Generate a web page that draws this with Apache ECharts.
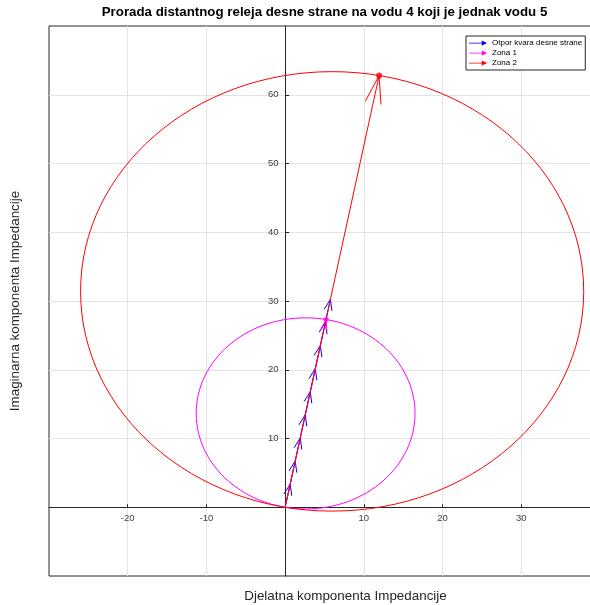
<!DOCTYPE html>
<html>
<head>
<meta charset="utf-8">
<script src="https://cdn.jsdelivr.net/npm/echarts@6/dist/echarts.min.js"></script>
<style>html,body{margin:0;padding:0;background:#fff;}#c{width:590px;height:605px;}</style>
</head>
<body>
<div id="c"></div>
<script>
// ---- data ----
const xTickValues = [-20, -10, 10, 20, 30];
const yTickValues = [10, 20, 30, 40, 50, 60];
// fault resistance path (quiver points)
const faultX = [0, 0.64, 1.28, 1.92, 2.55, 3.19, 3.83, 4.47, 5.11, 5.75];
const faultY = [0, 3.36, 6.72, 10.08, 13.44, 16.80, 20.16, 23.52, 26.88, 30.24];
// zone reach vectors (start -> tip)
const zone1Vec = [0, 0, 5.2, 27.3];
const zone2Vec = [0, 0, 11.94, 62.8];
// mho circles: [centerX, centerY, radius]
const zone1Circle = [2.6, 13.65, 13.9];
const zone2Circle = [5.97, 31.4, 31.96];
const seriesNames = ['Otpor kvara desne strane', 'Zona 1', 'Zona 2'];

const faultArrows = [];
for (let i = 0; i < faultX.length - 1; i++) {
  faultArrows.push([faultX[i], faultY[i], faultX[i + 1], faultY[i + 1]]);
}

function arrowRender(color, headLen, headHalf) {
  return function (params, api) {
    const p0 = api.coord([api.value(0), api.value(1)]);
    const p1 = api.coord([api.value(2), api.value(3)]);
    const dx = p1[0] - p0[0], dy = p1[1] - p0[1];
    const L = Math.sqrt(dx * dx + dy * dy) || 1;
    const ux = dx / L, uy = dy / L;
    const bx = p1[0] - ux * headLen, by = p1[1] - uy * headLen;
    const px = -uy, py = ux;
    return {
      type: 'group',
      children: [
        { type: 'polyline', shape: { points: [p0, p1] }, style: { stroke: color, lineWidth: 1, fill: null } },
        { type: 'polyline', shape: { points: [[bx + px * headHalf, by + py * headHalf], p1, [bx - px * headHalf, by - py * headHalf]] },
          style: { stroke: color, lineWidth: 1, fill: null } }
      ]
    };
  };
}
function circleRender(color) {
  return function (params, api) {
    const c = api.coord([api.value(0), api.value(1)]);
    const s = api.size([api.value(2), api.value(2)]);
    return { type: 'ellipse', shape: { cx: c[0], cy: c[1], rx: s[0], ry: s[1] },
      style: { stroke: color, lineWidth: 1, fill: null } };
  };
}

const arrowIcon = 'path://M0,3.5 L17,3.5 L17,0.5 L24,4 L17,7.5 L17,4.5 L0,4.5 Z';
const axisColor = '#262626';
const labelColor = '#404040';
const gridColor = '#e3e3e3';
const FONT = '"Liberation Sans", Arial, Helvetica, sans-serif';

const chart = echarts.init(document.getElementById('c'), null, { renderer: 'canvas' });
chart.setOption({
  animation: false,
  backgroundColor: '#ffffff',
  title: {
    text: 'Prorada distantnog releja desne strane na vodu 4 koji je jednak vodu 5',
    left: 324.5, top: 6, textAlign: 'center', padding: 0,
    textStyle: { fontFamily: FONT, fontSize: 13.3, fontWeight: 'bold', color: '#000' }
  },
  legend: {
    data: seriesNames.map(n => ({ name: n, icon: arrowIcon })),
    orient: 'vertical', left: 466, top: 36,
    itemWidth: 18, itemHeight: 7, itemGap: 2,
    padding: [3, 3, 3, 3],
    backgroundColor: '#fff', borderColor: axisColor, borderWidth: 1, borderRadius: 0,
    textStyle: { fontFamily: FONT, fontSize: 8, color: '#000' }
  },
  grid: {
    left: 49, top: 26, width: 551, height: 550, outerBoundsMode: 'none', containLabel: false,
    show: true, borderColor: axisColor, borderWidth: 1, backgroundColor: 'transparent'
  },
  xAxis: {
    type: 'value', min: -30, max: 40, interval: 10,
    name: 'Djelatna komponenta Impedancije', nameLocation: 'middle', nameGap: 14,
    nameTextStyle: { fontFamily: FONT, fontSize: 13.4, color: axisColor, padding: [0, 0, 0, 42] },
    axisLine: { onZero: true, lineStyle: { color: axisColor, width: 1 } },
    axisTick: { inside: true, length: 3, customValues: xTickValues, lineStyle: { color: axisColor } },
    axisLabel: { customValues: xTickValues, margin: -62.5, fontFamily: FONT, fontSize: 9.5, color: labelColor },
    splitLine: { show: true, lineStyle: { color: gridColor, width: 1 } }
  },
  yAxis: {
    type: 'value', min: -10, max: 70, interval: 10,
    name: 'Imaginarna komponenta Impedancije', nameLocation: 'middle', nameGap: 27, nameRotate: 90,
    nameTextStyle: { fontFamily: FONT, fontSize: 13.4, color: axisColor },
    axisLine: { onZero: true, lineStyle: { color: axisColor, width: 1 } },
    axisTick: { inside: true, length: 4, customValues: yTickValues, lineStyle: { color: axisColor } },
    axisLabel: { customValues: yTickValues, margin: -229.5, fontFamily: FONT, fontSize: 9.5, color: labelColor },
    splitLine: { show: true, lineStyle: { color: gridColor, width: 1 } }
  },
  series: [
    {
      name: seriesNames[0], type: 'custom', renderItem: arrowRender('#0000ff', 11, 4),
      itemStyle: { color: '#0000ff' }, encode: { x: [0, 2], y: [1, 3] },
      data: faultArrows, z: 2
    },
    {
      type: 'custom', renderItem: circleRender('#ff00ff'), itemStyle: { color: '#ff00ff' },
      encode: { x: 0, y: 1 }, data: [zone1Circle], z: 3, silent: true
    },
    {
      name: seriesNames[1], type: 'custom', renderItem: arrowRender('#ff00ff', 12, 3.5),
      itemStyle: { color: '#ff00ff' }, encode: { x: [0, 2], y: [1, 3] },
      data: [zone1Vec], z: 3
    },
    {
      type: 'custom', renderItem: circleRender('#ff0000'), itemStyle: { color: '#ff0000' },
      encode: { x: 0, y: 1 }, data: [zone2Circle], z: 4, silent: true
    },
    {
      name: seriesNames[2], type: 'custom', renderItem: arrowRender('#ff0000', 28, 8),
      itemStyle: { color: '#ff0000' }, encode: { x: [0, 2], y: [1, 3] },
      data: [zone2Vec], z: 4
    },
    {
      type: 'scatter', symbol: 'circle', symbolSize: 5, itemStyle: { color: '#ff00ff' },
      data: [[zone1Vec[2], zone1Vec[3]]], z: 5, silent: true
    },
    {
      type: 'scatter', symbol: 'circle', symbolSize: 6, itemStyle: { color: '#ff0000' },
      data: [[zone2Vec[2], zone2Vec[3]]], z: 5, silent: true
    }
  ]
});
</script>
</body>
</html>
